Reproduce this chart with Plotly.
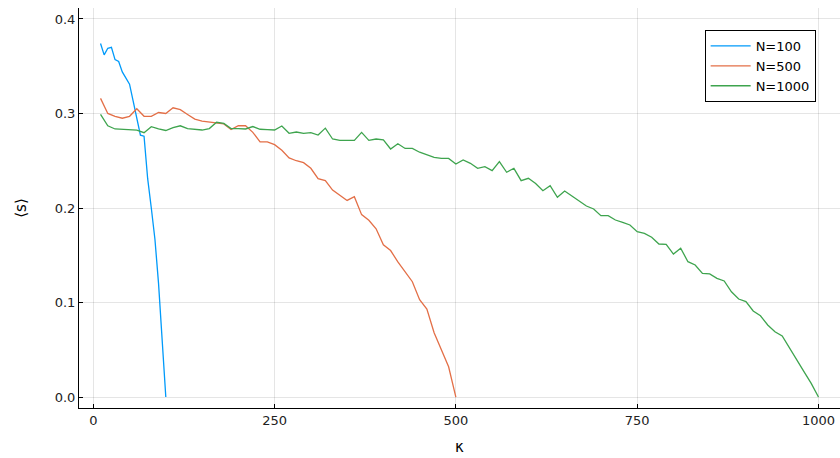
import plotly.graph_objects as go

k100 = list(range(10, 101, 5))
s100 = [0.374, 0.362, 0.369, 0.370, 0.357, 0.355, 0.344, 0.337, 0.331, 0.313,
        0.294, 0.277, 0.276, 0.231, 0.200, 0.167, 0.120, 0.057, 0.000]

k500 = list(range(10, 501, 10))
s500 = [0.316, 0.300, 0.297, 0.295, 0.297, 0.305, 0.297, 0.297, 0.301, 0.300,
        0.306, 0.304, 0.299, 0.294, 0.292, 0.291, 0.290, 0.289, 0.283, 0.287,
        0.287, 0.280, 0.270, 0.270, 0.267, 0.261, 0.253, 0.250, 0.248, 0.242,
        0.231, 0.229, 0.219, 0.213, 0.208, 0.212, 0.193, 0.187, 0.178, 0.161,
        0.155, 0.143, 0.132, 0.122, 0.103, 0.093, 0.068, 0.050, 0.032, 0.000]

k1000 = list(range(10, 1001, 10))
s1000 = [0.299, 0.287, 0.2836, 0.283, 0.283, 0.2825, 0.2797, 0.286, 0.2836, 0.282,
         0.285, 0.287, 0.284, 0.283, 0.2825, 0.284, 0.2907, 0.2895, 0.284, 0.284,
         0.2836, 0.2862, 0.2833, 0.283, 0.2825, 0.2868, 0.279, 0.2804, 0.279, 0.2797,
         0.2772, 0.2845, 0.273, 0.2716, 0.2716, 0.2716, 0.280, 0.2716, 0.273, 0.272,
         0.2624, 0.268, 0.263, 0.263, 0.259, 0.256, 0.2536, 0.2525, 0.2525, 0.2466,
         0.2508, 0.2473, 0.242, 0.2437, 0.2395, 0.249, 0.2378, 0.242, 0.2289, 0.2314,
         0.226, 0.2183, 0.2236, 0.2113, 0.218, 0.2127, 0.2074, 0.2021, 0.199, 0.1919,
         0.1919, 0.1873, 0.1849, 0.182, 0.1749, 0.1732, 0.169, 0.1619, 0.1616, 0.1513,
         0.1574, 0.1432, 0.1397, 0.1309, 0.1302, 0.1256, 0.1228, 0.1114, 0.1037, 0.1009,
         0.091, 0.086, 0.0762, 0.0691, 0.0646, 0.0515, 0.039, 0.0268, 0.0145, 0.000]

names = ["N=100", "N=500", "N=1000"]
colors = ["#009AFA", "#E36F47", "#3EA44E"]

xticks = [0, 250, 500, 750, 1000]
yticks = [0.0, 0.1, 0.2, 0.3, 0.4]

fig = go.Figure()
for x, y, n, c in zip([k100, k500, k1000], [s100, s500, s1000], names, colors):
    fig.add_trace(go.Scatter(x=x, y=y, mode="lines", name=n,
                             line=dict(color=c, width=1.3)))

font = "DejaVu Sans"
fig.update_layout(
    width=840, height=458,
    margin=dict(l=79, r=0, t=8, b=50),
    paper_bgcolor="white", plot_bgcolor="white",
    font=dict(family=font, size=13, color="black"),
    legend=dict(x=0.968, xanchor="right", y=0.945, yanchor="top",
                bordercolor="black", borderwidth=1, bgcolor="white",
                font=dict(size=13), tracegroupgap=0, itemwidth=40),
    xaxis=dict(range=[-19.7, 1029.7], tickvals=xticks,
               ticktext=[str(v) for v in xticks],
               showgrid=True, gridcolor="rgba(0,0,0,0.1)", gridwidth=1,
               zeroline=False, showline=True, linecolor="black", linewidth=1,
               ticks="inside", ticklen=4, tickcolor="black",
               tickfont=dict(size=13, color="#222"),
               title=dict(text="κ", font=dict(size=15), standoff=14)),
    yaxis=dict(range=[-0.0116, 0.4116], tickvals=yticks,
               ticktext=["%.1f" % v for v in yticks],
               showgrid=True, gridcolor="rgba(0,0,0,0.1)", gridwidth=1,
               zeroline=False, showline=True, linecolor="black", linewidth=1,
               ticks="inside", ticklen=4, tickcolor="black",
               tickfont=dict(size=13, color="#222"),
               title=dict(text="⟨s⟩", font=dict(size=15), standoff=24)),
)
fig.write_html("out.html")
